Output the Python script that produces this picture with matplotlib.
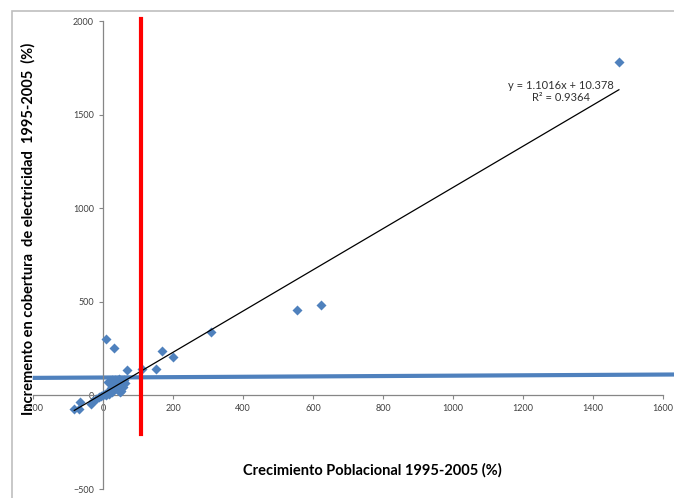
import matplotlib
matplotlib.use("Agg")
import matplotlib.pyplot as plt
from matplotlib.patches import Rectangle

# Crecimiento poblacional (x) vs incremento en cobertura electrica (y), en %
crecimiento = [-82, -68, -67, -35, -30, -20, -12, -5, 0, 5, 8, 12, 15, 18, 20,
               22, 25, 27, 30, 32, 35, 38, 40, 42, 45, 48, 50, 52, 55, 58, 60,
               62, 15, 25, 35, 45, 49, 68, 110, 151, 169, 200, 309, 9, 31,
               553, 622, 1474]
incremento = [-70, -72, -35, -45, -30, -20, -10, -5, 5, 10, 0, 15, 20, 8, 25,
              40, 30, 20, 45, 35, 55, 40, 60, 30, 50, 70, 25, 60, 75, 45, 80,
              65, 70, 80, 85, 90, 16, 137, 142, 142, 237, 208, 340, 304, 255,
              459, 483, 1781]

# tendencia lineal (Excel)
pendiente = 1.1016
intercepto = 10.378
r2 = 0.9364

# lineas de referencia
umbral_x = 108
linea_azul_x = [-195, 1630]
linea_azul_y = [94, 112]

AZUL = "#4F81BD"

fig = plt.figure(figsize=(6.74, 4.98), dpi=100)
fig.patches.append(Rectangle((12 / 674, -0.1), 2, 1.1 - 11 / 498,
                             transform=fig.transFigure, fill=False,
                             edgecolor="#BFBFBF", linewidth=1.2))

ax = fig.add_axes([33 / 674, 1 - 489 / 498, 630 / 674, (489 - 21.3) / 498])
ax.set_xlim(-200, 1600)
ax.set_ylim(-500, 2000)

ax.scatter(crecimiento, incremento, marker="D", s=26, color=AZUL, zorder=3,
           linewidths=0)

xs = [min(crecimiento), max(crecimiento)]
ax.plot(xs, [pendiente * v + intercepto for v in xs], color="black",
        linewidth=0.9, zorder=4)

ax.plot([umbral_x, umbral_x], [-205, 2010], color="#FF0000", linewidth=3,
        zorder=5, clip_on=False)
ax.plot(linea_azul_x, linea_azul_y, color=AZUL, linewidth=3, zorder=2,
        clip_on=False)

ax.text(1309, 1625, f"y = {pendiente}x + {intercepto}\nR² = {r2}",
        fontsize=8, family="Lato", ha="center", va="center",
        linespacing=1.2, color="#303030")

for s in ["top", "right"]:
    ax.spines[s].set_visible(False)
ax.spines["left"].set_position(("data", 0))
ax.spines["bottom"].set_position(("data", 0))
for s in ["left", "bottom"]:
    ax.spines[s].set_color("#868686")
    ax.spines[s].set_linewidth(0.9)

ax.set_xticks(range(-200, 1601, 200))
ax.set_yticks(range(-500, 2001, 500))
ax.tick_params(axis="both", labelsize=6.5, colors="#868686", labelcolor="#404040",
               length=3, width=0.8, direction="out")
for lab in ax.get_xticklabels() + ax.get_yticklabels():
    lab.set_family("Lato")

fig.text(372 / 674, 1 - 470 / 498, "Crecimiento Poblacional 1995-2005 (%)",
         ha="center", va="center", fontsize=10.5, fontweight="bold",
         family="Lato")
fig.text(28 / 674, 1 - 229 / 498,
         "Incremento en cobertura  de electricidad  1995-2005  (%)",
         ha="center", va="center", rotation=90, fontsize=10.5,
         fontweight="bold", family="Lato")

fig.savefig("out.png", dpi=100)
